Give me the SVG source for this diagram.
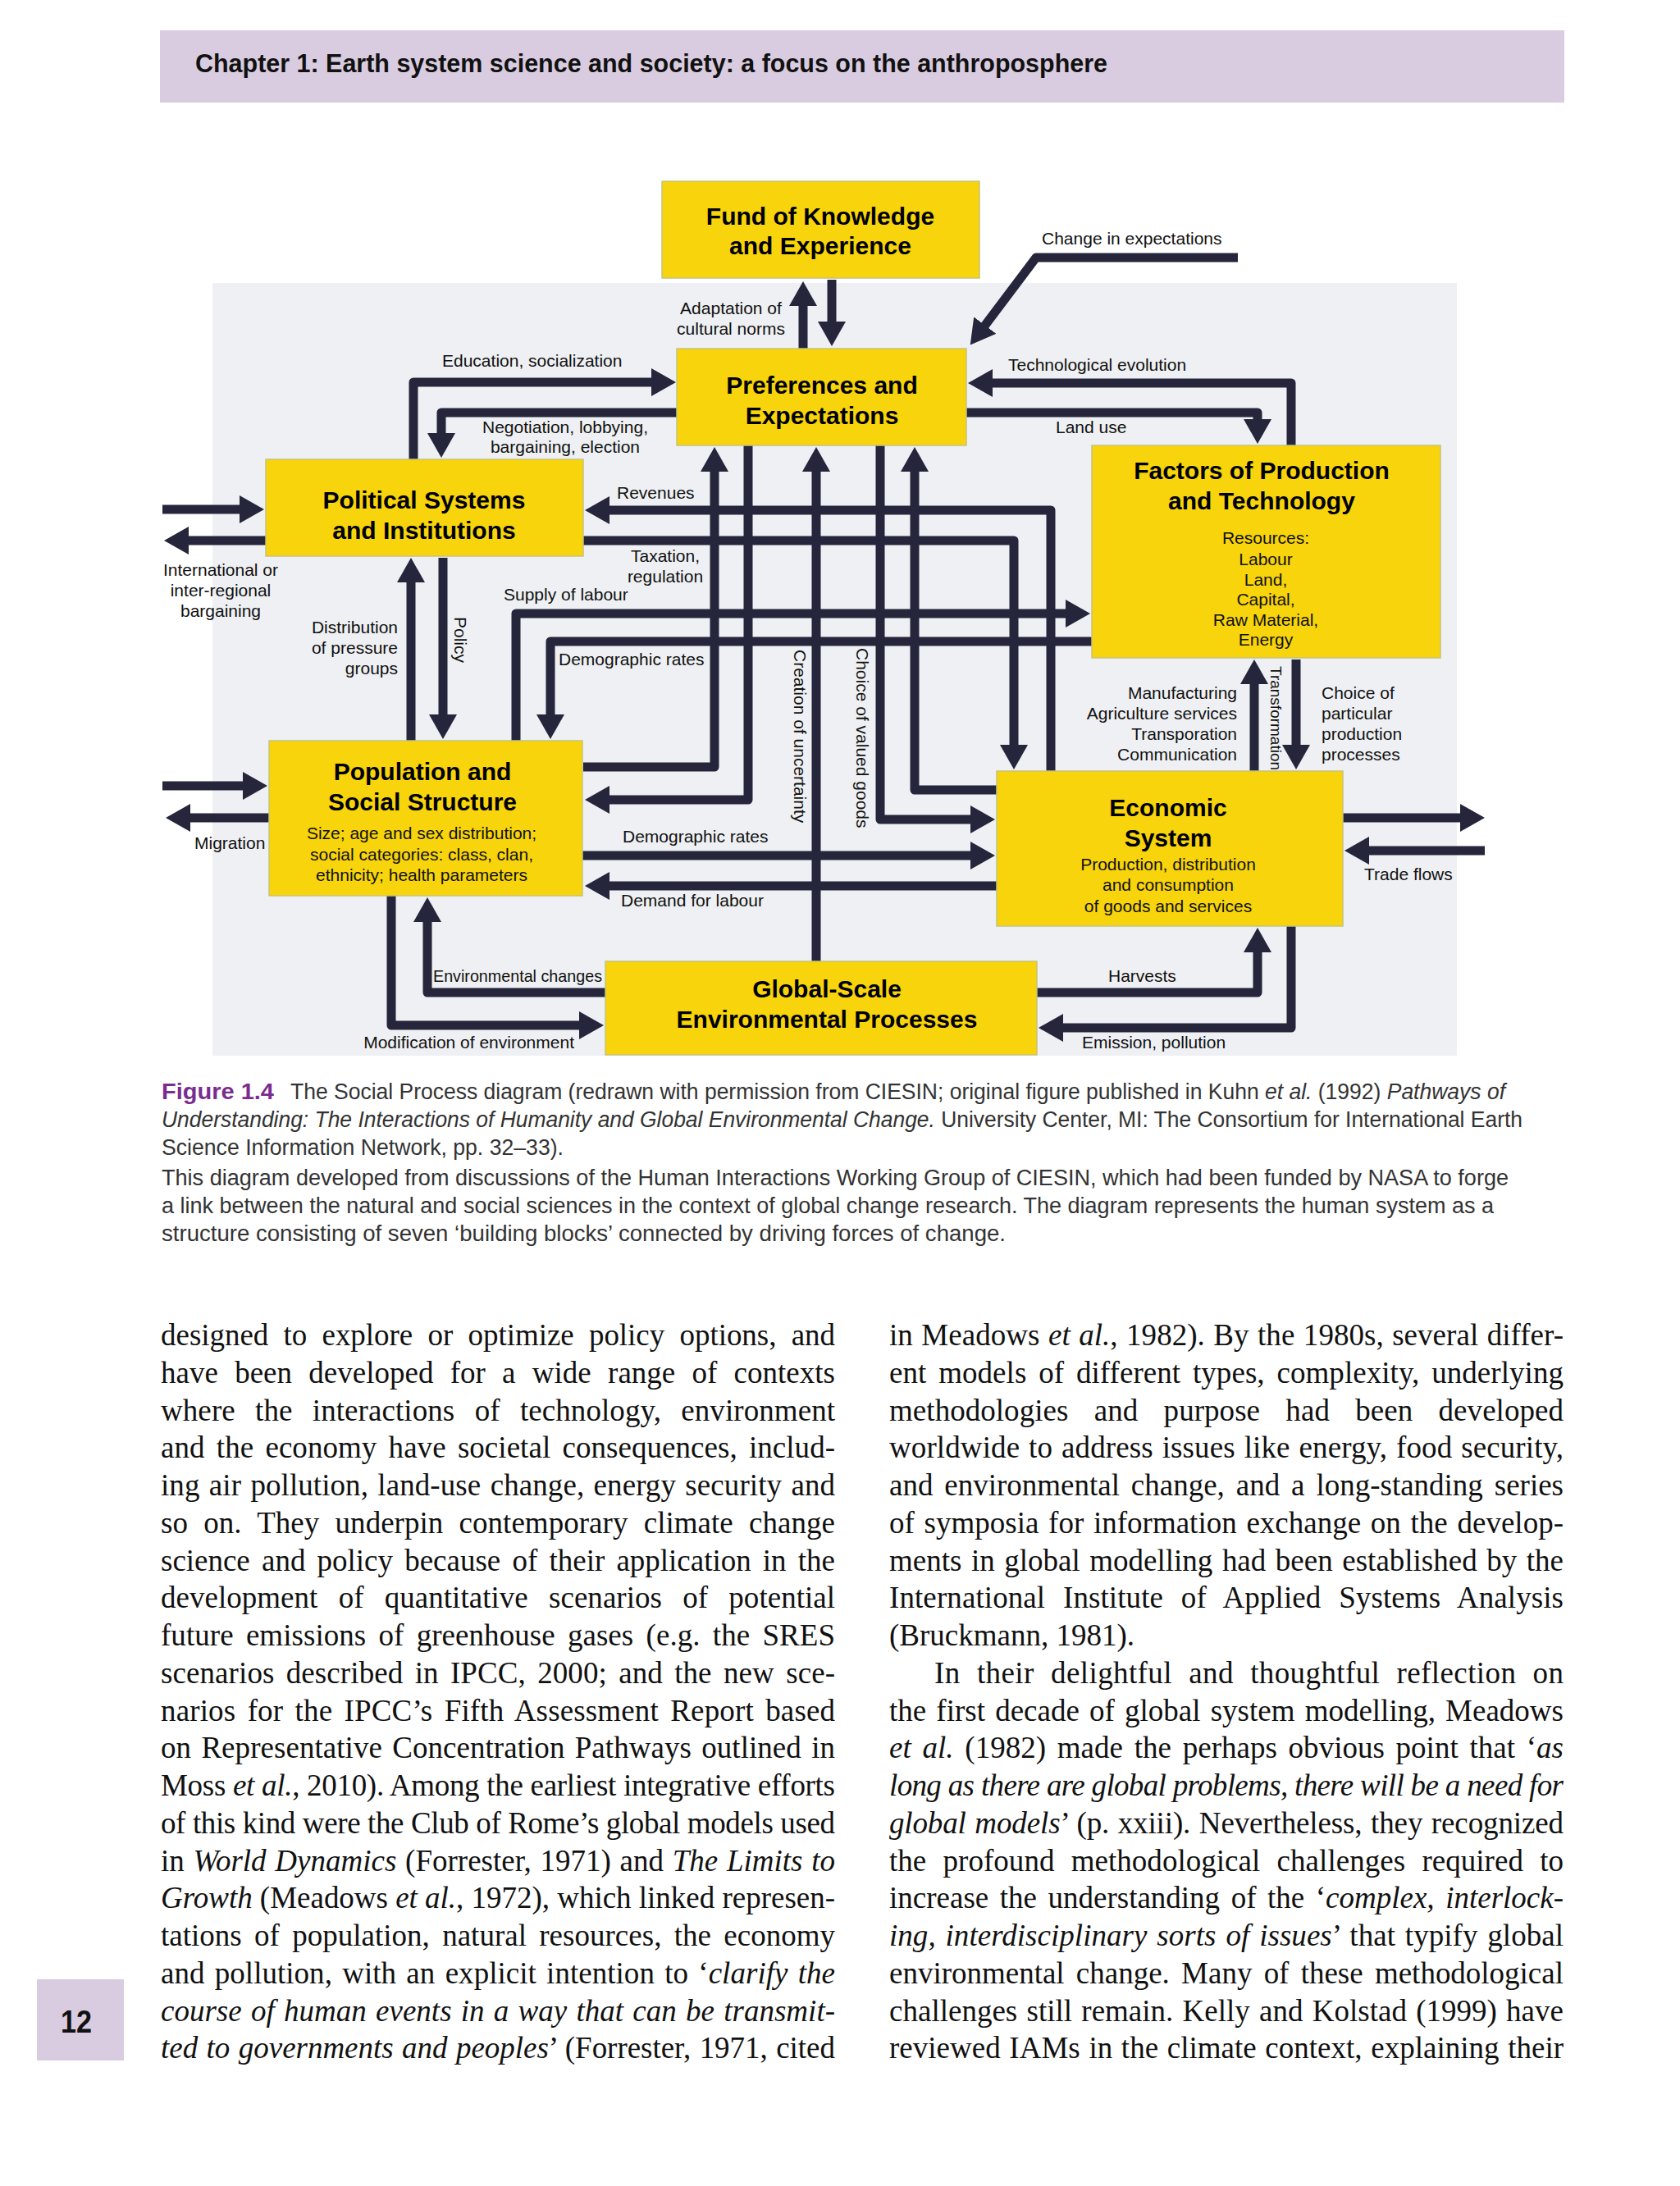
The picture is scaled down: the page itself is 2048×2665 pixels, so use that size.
<svg xmlns="http://www.w3.org/2000/svg" width="2048" height="2665" viewBox="0 0 2048 2665">
<style>
.lbl{font-family:"Liberation Sans",Arial,sans-serif;font-size:21px;fill:#111}
.mid{text-anchor:middle}
.end{text-anchor:end}
.ttl{font-family:"Liberation Sans",Arial,sans-serif;font-size:30px;font-weight:bold;fill:#000;text-anchor:middle}
.sub{font-family:"Liberation Sans",Arial,sans-serif;font-size:21px;fill:#111;text-anchor:middle}
.box{fill:#f7d40b;stroke:#c8c27c;stroke-width:1.5}
.con{fill:none;stroke:#25253c;stroke-width:11;stroke-linejoin:round;marker-end:url(#ah)}
.body{font-family:"Liberation Serif","Times New Roman",serif;font-size:37px;fill:#111}
.cap{font-family:"Liberation Sans",Arial,sans-serif;font-size:27px;fill:#333}
.it{font-style:italic}
</style>
<defs>
<marker id="ah" markerUnits="userSpaceOnUse" viewBox="0 0 30 34" markerWidth="30" markerHeight="34" refX="8" refY="17" orient="auto">
<path d="M0,0 L30,17 L0,34 Z" fill="#25253c"/>
</marker>
</defs>
<rect width="2048" height="2665" fill="#ffffff"/>
<!-- header -->
<rect x="195" y="37" width="1712" height="88" fill="#d9cce0"/>
<text x="238" y="88" font-family="'Liberation Sans',Arial,sans-serif" font-size="31" font-weight="bold" fill="#111" textLength="1112" lengthAdjust="spacingAndGlyphs">Chapter 1: Earth system science and society: a focus on the anthroposphere</text>
<!-- diagram background -->
<rect x="259" y="345" width="1517" height="942" fill="#eef0f3"/>
<!-- connectors -->
<g id="connectors">
<path class="con" d="M979,425 V365"/>
<path class="con" d="M1014,341 V400"/>
<path class="con" d="M504,560 V466 H802"/>
<path class="con" d="M825,503 H538 V536"/>
<path class="con" d="M1281,940 V622 H735"/>
<path class="con" d="M711,659 H1236 V916"/>
<path class="con" d="M629,903 V748 H1307"/>
<path class="con" d="M1331,782 H671 V879"/>
<path class="con" d="M711,935 H871 V567"/>
<path class="con" d="M912,543 V975 H735"/>
<path class="con" d="M995,1172 V567"/>
<path class="con" d="M1073,543 V999 H1191"/>
<path class="con" d="M1215,963 H1115 V567"/>
<path class="con" d="M710,1043 H1191"/>
<path class="con" d="M1215,1080 H735"/>
<path class="con" d="M738,1210 H521 V1116"/>
<path class="con" d="M477,1092 V1250 H714"/>
<path class="con" d="M1264,1210 H1533 V1153"/>
<path class="con" d="M1574,1129 V1253 H1288"/>
<path class="con" d="M1637,997 H1788"/>
<path class="con" d="M1810,1037 H1661"/>
<path class="con" d="M1529,940 V826"/>
<path class="con" d="M1580,804 V916"/>
<path class="con" d="M198,621 H300"/>
<path class="con" d="M324,659 H222"/>
<path class="con" d="M198,958 H304"/>
<path class="con" d="M328,997 H224"/>
<path class="con" d="M501,903 V702"/>
<path class="con" d="M540,680 V879"/>
<path class="con" d="M1574,543 V467 H1202"/>
<path class="con" d="M1178,503 H1533 V519"/>
<path class="con" d="M1509,314 H1263 L1196,403"/>
</g>
<!-- connector labels -->
<g id="labels" class="lbl">
<text class="mid" x="891" y="383">Adaptation of</text>
<text class="mid" x="891" y="408">cultural norms</text>
<text x="539" y="447">Education, socialization</text>
<text class="mid" x="689" y="528">Negotiation, lobbying,</text>
<text class="mid" x="689" y="552">bargaining, election</text>
<text x="1270" y="298">Change in expectations</text>
<text x="1229" y="452">Technological evolution</text>
<text x="1287" y="528">Land use</text>
<text x="752" y="608">Revenues</text>
<text class="mid" x="811" y="685">Taxation,</text>
<text class="mid" x="811" y="710">regulation</text>
<text x="614" y="732">Supply of labour</text>
<text x="681" y="811">Demographic rates</text>
<text class="mid" x="269" y="702">International or</text>
<text class="mid" x="269" y="727">inter-regional</text>
<text class="mid" x="269" y="752">bargaining</text>
<text class="end" x="485" y="772">Distribution</text>
<text class="end" x="485" y="797">of pressure</text>
<text class="end" x="485" y="822">groups</text>
<text transform="translate(554,752) rotate(90)">Policy</text>
<text transform="translate(968,792) rotate(90)">Creation of uncertainty</text>
<text transform="translate(1044,790) rotate(90)">Choice of valued goods</text>
<text transform="translate(1549,812) rotate(90)" font-size="19">Transformation</text>
<text class="end" x="1508" y="852">Manufacturing</text>
<text class="end" x="1508" y="877">Agriculture services</text>
<text class="end" x="1508" y="902">Transporation</text>
<text class="end" x="1508" y="927">Communication</text>
<text x="1611" y="852">Choice of</text>
<text x="1611" y="877">particular</text>
<text x="1611" y="902">production</text>
<text x="1611" y="927">processes</text>
<text x="237" y="1035">Migration</text>
<text x="759" y="1027">Demographic rates</text>
<text x="757" y="1105">Demand for labour</text>
<text x="1663" y="1073">Trade flows</text>
<text x="528" y="1197" textLength="206" lengthAdjust="spacingAndGlyphs">Environmental changes</text>
<text class="end" x="700" y="1278">Modification of environment</text>
<text x="1351" y="1197">Harvests</text>
<text x="1319" y="1278">Emission, pollution</text>
</g>
<!-- nodes -->
<g id="fund">
<rect class="box" x="807" y="221" width="387" height="118"/>
<text class="ttl" x="1000" y="274">Fund of Knowledge</text>
<text class="ttl" x="1000" y="310">and Experience</text>
</g>
<g id="pref">
<rect class="box" x="825" y="425" width="353" height="118"/>
<text class="ttl" x="1002" y="480">Preferences and</text>
<text class="ttl" x="1002" y="517">Expectations</text>
</g>
<g id="political">
<rect class="box" x="324" y="560" width="387" height="118"/>
<text class="ttl" x="517" y="620">Political Systems</text>
<text class="ttl" x="517" y="657">and Institutions</text>
</g>
<g id="population">
<rect class="box" x="328" y="903" width="382" height="189"/>
<text class="ttl" x="515" y="951">Population and</text>
<text class="ttl" x="515" y="988">Social Structure</text>
<text class="sub" x="514" y="1023">Size; age and sex distribution;</text>
<text class="sub" x="514" y="1049">social categories: class, clan,</text>
<text class="sub" x="514" y="1074">ethnicity; health parameters</text>
</g>
<g id="factors">
<rect class="box" x="1331" y="543" width="425" height="259"/>
<text class="ttl" x="1538" y="584">Factors of Production</text>
<text class="ttl" x="1538" y="621">and Technology</text>
<text class="sub" x="1543" y="663">Resources:</text>
<text class="sub" x="1543" y="689">Labour</text>
<text class="sub" x="1543" y="714">Land,</text>
<text class="sub" x="1543" y="738">Capital,</text>
<text class="sub" x="1543" y="763">Raw Material,</text>
<text class="sub" x="1543" y="787">Energy</text>
</g>
<g id="economic">
<rect class="box" x="1215" y="940" width="422" height="189"/>
<text class="ttl" x="1424" y="995">Economic</text>
<text class="ttl" x="1424" y="1032">System</text>
<text class="sub" x="1424" y="1061">Production, distribution</text>
<text class="sub" x="1424" y="1086">and consumption</text>
<text class="sub" x="1424" y="1112">of goods and services</text>
</g>
<g id="global">
<rect class="box" x="738" y="1172" width="526" height="114"/>
<text class="ttl" x="1008" y="1216">Global-Scale</text>
<text class="ttl" x="1008" y="1253">Environmental Processes</text>
</g>
<!-- caption -->
<g id="caption" class="cap">
<text x="197" y="1340" font-weight="bold" fill="#7b2c8f" textLength="137" lengthAdjust="spacingAndGlyphs">Figure 1.4</text>
<text x="354" y="1340" textLength="1481" lengthAdjust="spacingAndGlyphs">The Social Process diagram (redrawn with permission from CIESIN; original figure published in Kuhn <tspan class="it">et al.</tspan> (1992) <tspan class="it">Pathways of</tspan></text>
<text x="197" y="1374" textLength="1659" lengthAdjust="spacingAndGlyphs"><tspan class="it">Understanding: The Interactions of Humanity and Global Environmental Change.</tspan> University Center, MI: The Consortium for International Earth</text>
<text x="197" y="1408" textLength="490" lengthAdjust="spacingAndGlyphs">Science Information Network, pp. 32–33).</text>
<text x="197" y="1445" textLength="1642" lengthAdjust="spacingAndGlyphs">This diagram developed from discussions of the Human Interactions Working Group of CIESIN, which had been funded by NASA to forge</text>
<text x="197" y="1479" textLength="1624" lengthAdjust="spacingAndGlyphs">a link between the natural and social sciences in the context of global change research. The diagram represents the human system as a</text>
<text x="197" y="1513" textLength="1029" lengthAdjust="spacingAndGlyphs">structure consisting of seven ‘building blocks’ connected by driving forces of change.</text>
</g>
<!-- body text left column -->
<g id="body-left" class="body">
<text x="196" y="1640" word-spacing="9" textLength="822" lengthAdjust="spacing">designed to explore or optimize policy options, and</text>
<text x="196" y="1685.8" word-spacing="11" textLength="822" lengthAdjust="spacing">have been developed for a wide range of contexts</text>
<text x="196" y="1731.5" word-spacing="15" textLength="822" lengthAdjust="spacing">where the interactions of technology, environment</text>
<text x="196" y="1777.3" word-spacing="5" textLength="822" lengthAdjust="spacing">and the economy have societal consequences, includ-</text>
<text x="196" y="1823" word-spacing="2" textLength="822" lengthAdjust="spacing">ing air pollution, land-use change, energy security and</text>
<text x="196" y="1868.8" word-spacing="10" textLength="822" lengthAdjust="spacing">so on. They underpin contemporary climate change</text>
<text x="196" y="1914.6" word-spacing="5" textLength="822" lengthAdjust="spacing">science and policy because of their application in the</text>
<text x="196" y="1960.3" word-spacing="16" textLength="822" lengthAdjust="spacing">development of quantitative scenarios of potential</text>
<text x="196" y="2006.1" word-spacing="6" textLength="822" lengthAdjust="spacing">future emissions of greenhouse gases (e.g. the SRES</text>
<text x="196" y="2051.8" word-spacing="5" textLength="822" lengthAdjust="spacing">scenarios described in IPCC, 2000; and the new sce-</text>
<text x="196" y="2097.6" word-spacing="5" textLength="822" lengthAdjust="spacing">narios for the IPCC’s Fifth Assessment Report based</text>
<text x="196" y="2143.4" word-spacing="3" textLength="822" lengthAdjust="spacing">on Representative Concentration Pathways outlined in</text>
<text x="196" y="2189.1" textLength="822" lengthAdjust="spacing">Moss <tspan class="it">et al.</tspan>, 2010). Among the earliest integrative efforts</text>
<text x="196" y="2234.9" textLength="822" lengthAdjust="spacing">of this kind were the Club of Rome’s global models used</text>
<text x="196" y="2280.6" word-spacing="1.5" textLength="822" lengthAdjust="spacing">in <tspan class="it">World Dynamics</tspan> (Forrester, 1971) and <tspan class="it">The Limits to</tspan></text>
<text x="196" y="2326.4" textLength="822" lengthAdjust="spacing"><tspan class="it">Growth</tspan> (Meadows <tspan class="it">et al.</tspan>, 1972), which linked represen-</text>
<text x="196" y="2372.2" word-spacing="6" textLength="822" lengthAdjust="spacing">tations of population, natural resources, the economy</text>
<text x="196" y="2417.9" word-spacing="3" textLength="822" lengthAdjust="spacing">and pollution, with an explicit intention to ‘<tspan class="it">clarify the</tspan></text>
<text x="196" y="2463.7" word-spacing="2" textLength="822" lengthAdjust="spacing" class="it">course of human events in a way that can be transmit-</text>
<text x="196" y="2509.4" word-spacing="1.3" textLength="822" lengthAdjust="spacing"><tspan class="it">ted to governments and peoples</tspan>’ (Forrester, 1971, cited</text>
</g>
<!-- body text right column -->
<g id="body-right" class="body">
<text x="1084" y="1640" word-spacing="1.2" textLength="822" lengthAdjust="spacing">in Meadows <tspan class="it">et al.</tspan>, 1982). By the 1980s, several differ-</text>
<text x="1084" y="1685.8" word-spacing="5.5" textLength="822" lengthAdjust="spacing">ent models of different types, complexity, underlying</text>
<text x="1084" y="1731.5" word-spacing="22" textLength="822" lengthAdjust="spacing">methodologies and purpose had been developed</text>
<text x="1084" y="1777.3" word-spacing="1.6" textLength="822" lengthAdjust="spacing">worldwide to address issues like energy, food security,</text>
<text x="1084" y="1823" word-spacing="4.7" textLength="822" lengthAdjust="spacing">and environmental change, and a long-standing series</text>
<text x="1084" y="1868.8" word-spacing="2.4" textLength="822" lengthAdjust="spacing">of symposia for information exchange on the develop-</text>
<text x="1084" y="1914.6" word-spacing="2.3" textLength="822" lengthAdjust="spacing">ments in global modelling had been established by the</text>
<text x="1084" y="1960.3" word-spacing="12.4" textLength="822" lengthAdjust="spacing">International Institute of Applied Systems Analysis</text>
<text x="1084" y="2006.1">(Bruckmann, 1981).</text>
<text x="1139" y="2051.8" word-spacing="10.7" textLength="767" lengthAdjust="spacing">In their delightful and thoughtful reflection on</text>
<text x="1084" y="2097.6" word-spacing="2.9" textLength="822" lengthAdjust="spacing">the first decade of global system modelling, Meadows</text>
<text x="1084" y="2143.4" word-spacing="4.5" textLength="822" lengthAdjust="spacing"><tspan class="it">et al.</tspan> (1982) made the perhaps obvious point that ‘<tspan class="it">as</tspan></text>
<text x="1084" y="2189.1" textLength="822" lengthAdjust="spacing" class="it">long as there are global problems, there will be a need for</text>
<text x="1084" y="2234.9" word-spacing="1.5" textLength="822" lengthAdjust="spacing"><tspan class="it">global models</tspan>’ (p. xxiii). Nevertheless, they recognized</text>
<text x="1084" y="2280.6" word-spacing="11" textLength="822" lengthAdjust="spacing">the profound methodological challenges required to</text>
<text x="1084" y="2326.4" word-spacing="4.3" textLength="822" lengthAdjust="spacing">increase the understanding of the ‘<tspan class="it">complex, interlock-</tspan></text>
<text x="1084" y="2372.2" word-spacing="2.6" textLength="822" lengthAdjust="spacing"><tspan class="it">ing, interdisciplinary sorts of issues</tspan>’ that typify global</text>
<text x="1084" y="2417.9" word-spacing="5" textLength="822" lengthAdjust="spacing">environmental change. Many of these methodological</text>
<text x="1084" y="2463.7" word-spacing="2" textLength="822" lengthAdjust="spacing">challenges still remain. Kelly and Kolstad (1999) have</text>
<text x="1084" y="2509.4" word-spacing="1.4" textLength="822" lengthAdjust="spacing">reviewed IAMs in the climate context, explaining their</text>
</g>
<!-- page number -->
<rect x="45" y="2413" width="106" height="99" fill="#d9cce0"/>
<text x="93" y="2478" text-anchor="middle" font-family="'Liberation Sans',Arial,sans-serif" font-size="38" font-weight="bold" fill="#111" textLength="38" lengthAdjust="spacingAndGlyphs">12</text>
</svg>
